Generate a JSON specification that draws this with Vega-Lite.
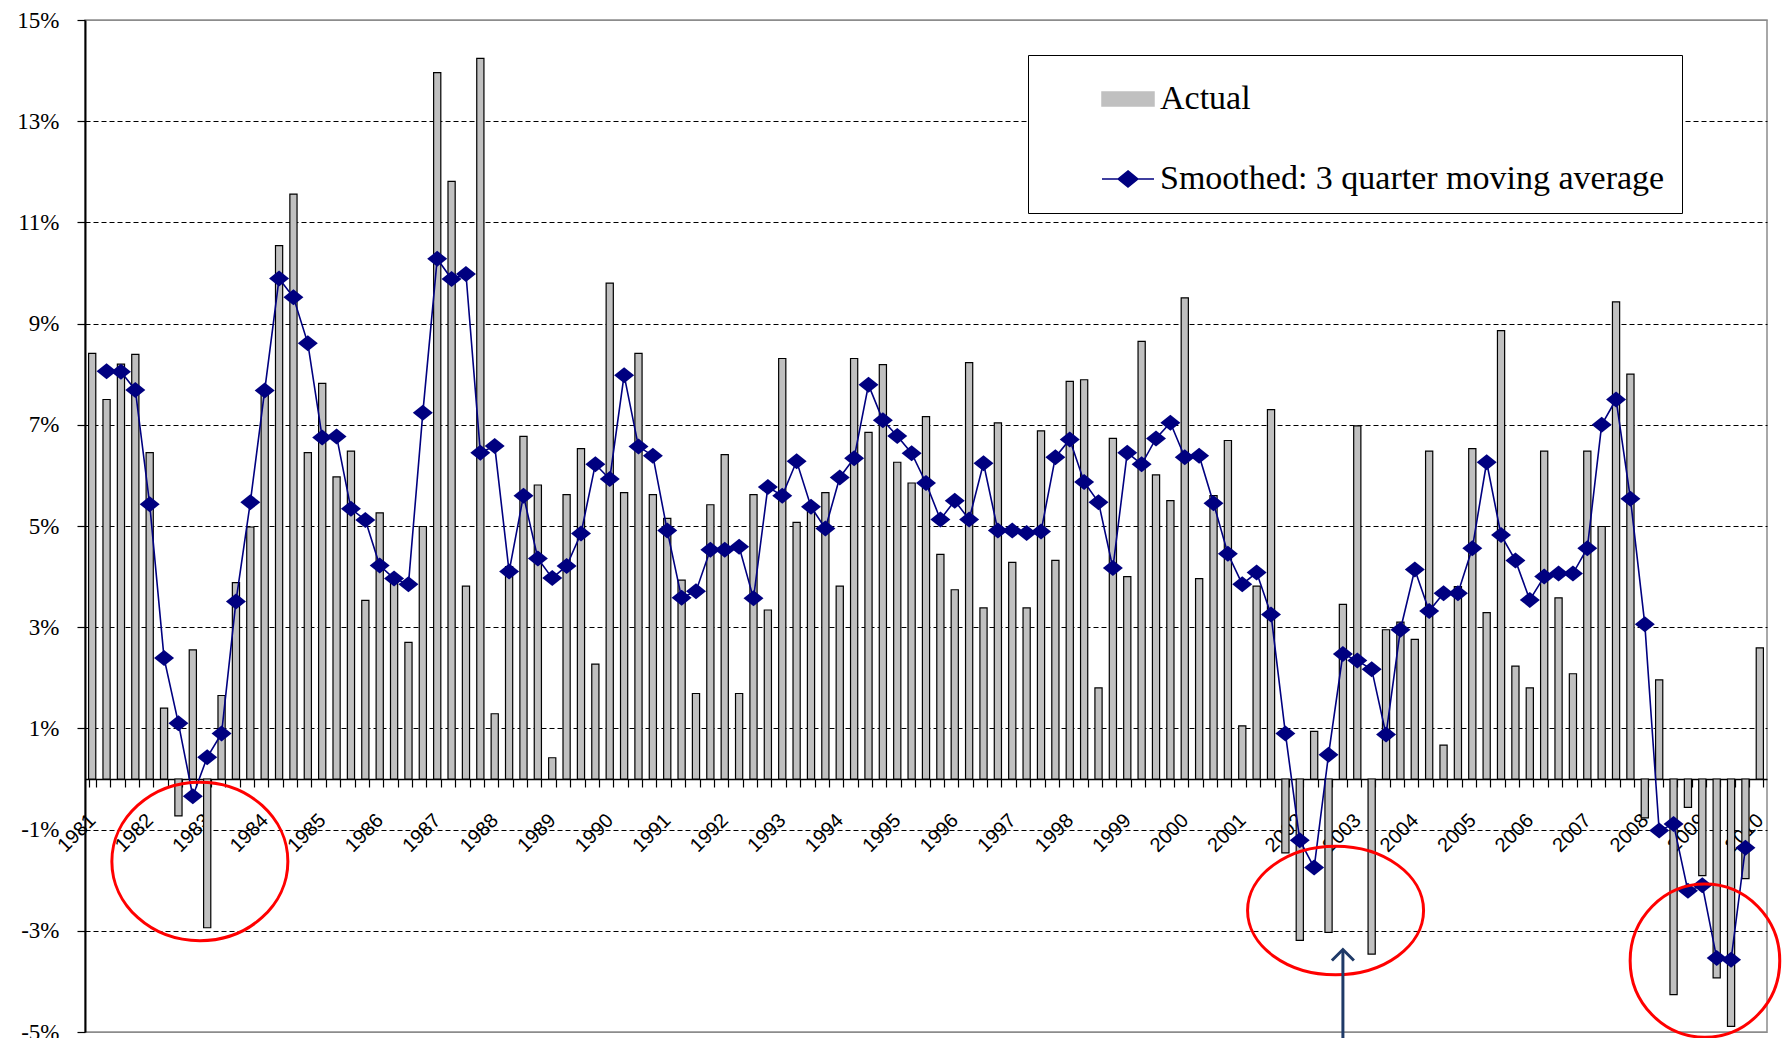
{
  "$schema": "https://vega.github.io/schema/vega-lite/v6.json",
  "autosize": {"type": "none"},
  "padding": {"left": 85, "top": 20, "right": 16, "bottom": 6},
  "width": 1682,
  "height": 1012,
  "background": "white",
  "config": {
    "view": {"stroke": "#8c8c8c", "strokeWidth": 1.5}
  },
  "data": {
    "values": [
      {"q": "1981 Q1", "a": 8.41, "s": null},
      {"q": "1981 Q2", "a": 7.50, "s": 8.06},
      {"q": "1981 Q3", "a": 8.2, "s": 8.05},
      {"q": "1981 Q4", "a": 8.39, "s": 7.69},
      {"q": "1982 Q1", "a": 6.45, "s": 5.43},
      {"q": "1982 Q2", "a": 1.40, "s": 2.39},
      {"q": "1982 Q3", "a": -0.73, "s": 1.10},
      {"q": "1982 Q4", "a": 2.55, "s": -0.34},
      {"q": "1983 Q1", "a": -2.94, "s": 0.43},
      {"q": "1983 Q2", "a": 1.65, "s": 0.90},
      {"q": "1983 Q3", "a": 3.88, "s": 3.51},
      {"q": "1983 Q4", "a": 4.98, "s": 5.47},
      {"q": "1984 Q1", "a": 7.6, "s": 7.68},
      {"q": "1984 Q2", "a": 10.54, "s": 9.89},
      {"q": "1984 Q3", "a": 11.56, "s": 9.52},
      {"q": "1984 Q4", "a": 6.45, "s": 8.61},
      {"q": "1985 Q1", "a": 7.82, "s": 6.75},
      {"q": "1985 Q2", "a": 5.97, "s": 6.77},
      {"q": "1985 Q3", "a": 6.48, "s": 5.34},
      {"q": "1985 Q4", "a": 3.53, "s": 5.12},
      {"q": "1986 Q1", "a": 5.26, "s": 4.22},
      {"q": "1986 Q2", "a": 3.9, "s": 3.96},
      {"q": "1986 Q3", "a": 2.70, "s": 3.85},
      {"q": "1986 Q4", "a": 4.99, "s": 7.24},
      {"q": "1987 Q1", "a": 13.96, "s": 10.28},
      {"q": "1987 Q2", "a": 11.81, "s": 9.88},
      {"q": "1987 Q3", "a": 3.81, "s": 9.98},
      {"q": "1987 Q4", "a": 14.24, "s": 6.45},
      {"q": "1988 Q1", "a": 1.29, "s": 6.58},
      {"q": "1988 Q2", "a": 4.2, "s": 4.10},
      {"q": "1988 Q3", "a": 6.77, "s": 5.60},
      {"q": "1988 Q4", "a": 5.81, "s": 4.36},
      {"q": "1989 Q1", "a": 0.42, "s": 3.97},
      {"q": "1989 Q2", "a": 5.62, "s": 4.21},
      {"q": "1989 Q3", "a": 6.53, "s": 4.85},
      {"q": "1989 Q4", "a": 2.27, "s": 6.22},
      {"q": "1990 Q1", "a": 9.80, "s": 5.93},
      {"q": "1990 Q2", "a": 5.66, "s": 7.98},
      {"q": "1990 Q3", "a": 8.41, "s": 6.57},
      {"q": "1990 Q4", "a": 5.62, "s": 6.39},
      {"q": "1991 Q1", "a": 5.15, "s": 4.91},
      {"q": "1991 Q2", "a": 3.93, "s": 3.58},
      {"q": "1991 Q3", "a": 1.69, "s": 3.71},
      {"q": "1991 Q4", "a": 5.42, "s": 4.53},
      {"q": "1992 Q1", "a": 6.41, "s": 4.53},
      {"q": "1992 Q2", "a": 1.69, "s": 4.59},
      {"q": "1992 Q3", "a": 5.62, "s": 3.57},
      {"q": "1992 Q4", "a": 3.34, "s": 5.77},
      {"q": "1993 Q1", "a": 8.31, "s": 5.60},
      {"q": "1993 Q2", "a": 5.07, "s": 6.28},
      {"q": "1993 Q3", "a": 5.4, "s": 5.38},
      {"q": "1993 Q4", "a": 5.66, "s": 4.95},
      {"q": "1994 Q1", "a": 3.81, "s": 5.96},
      {"q": "1994 Q2", "a": 8.31, "s": 6.34},
      {"q": "1994 Q3", "a": 6.85, "s": 7.79},
      {"q": "1994 Q4", "a": 8.19, "s": 7.09},
      {"q": "1995 Q1", "a": 6.26, "s": 6.78},
      {"q": "1995 Q2", "a": 5.85, "s": 6.44},
      {"q": "1995 Q3", "a": 7.16, "s": 5.85},
      {"q": "1995 Q4", "a": 4.44, "s": 5.13},
      {"q": "1996 Q1", "a": 3.74, "s": 5.50},
      {"q": "1996 Q2", "a": 8.23, "s": 5.13},
      {"q": "1996 Q3", "a": 3.38, "s": 6.24},
      {"q": "1996 Q4", "a": 7.04, "s": 4.91},
      {"q": "1997 Q1", "a": 4.28, "s": 4.91},
      {"q": "1997 Q2", "a": 3.38, "s": 4.86},
      {"q": "1997 Q3", "a": 6.88, "s": 4.89},
      {"q": "1997 Q4", "a": 4.32, "s": 6.36},
      {"q": "1998 Q1", "a": 7.86, "s": 6.71},
      {"q": "1998 Q2", "a": 7.89, "s": 5.87},
      {"q": "1998 Q3", "a": 1.80, "s": 5.47},
      {"q": "1998 Q4", "a": 6.73, "s": 4.17},
      {"q": "1999 Q1", "a": 4.00, "s": 6.45},
      {"q": "1999 Q2", "a": 8.65, "s": 6.22},
      {"q": "1999 Q3", "a": 6.01, "s": 6.73},
      {"q": "1999 Q4", "a": 5.50, "s": 7.04},
      {"q": "2000 Q1", "a": 9.51, "s": 6.36},
      {"q": "2000 Q2", "a": 3.96, "s": 6.39},
      {"q": "2000 Q3", "a": 5.6, "s": 5.45},
      {"q": "2000 Q4", "a": 6.69, "s": 4.45},
      {"q": "2001 Q1", "a": 1.05, "s": 3.85},
      {"q": "2001 Q2", "a": 3.81, "s": 4.08},
      {"q": "2001 Q3", "a": 7.30, "s": 3.25},
      {"q": "2001 Q4", "a": -1.46, "s": 0.90},
      {"q": "2002 Q1", "a": -3.19, "s": -1.21},
      {"q": "2002 Q2", "a": 0.94, "s": -1.75},
      {"q": "2002 Q3", "a": -3.03, "s": 0.48},
      {"q": "2002 Q4", "a": 3.45, "s": 2.47},
      {"q": "2003 Q1", "a": 6.98, "s": 2.34},
      {"q": "2003 Q2", "a": -3.46, "s": 2.17},
      {"q": "2003 Q3", "a": 2.95, "s": 0.88},
      {"q": "2003 Q4", "a": 3.1, "s": 2.95},
      {"q": "2004 Q1", "a": 2.76, "s": 4.14},
      {"q": "2004 Q2", "a": 6.48, "s": 3.32},
      {"q": "2004 Q3", "a": 0.67, "s": 3.67},
      {"q": "2004 Q4", "a": 3.8, "s": 3.67},
      {"q": "2005 Q1", "a": 6.53, "s": 4.56},
      {"q": "2005 Q2", "a": 3.29, "s": 6.26},
      {"q": "2005 Q3", "a": 8.86, "s": 4.82},
      {"q": "2005 Q4", "a": 2.23, "s": 4.32},
      {"q": "2006 Q1", "a": 1.80, "s": 3.54},
      {"q": "2006 Q2", "a": 6.48, "s": 4.00},
      {"q": "2006 Q3", "a": 3.58, "s": 4.06},
      {"q": "2006 Q4", "a": 2.08, "s": 4.06},
      {"q": "2007 Q1", "a": 6.48, "s": 4.56},
      {"q": "2007 Q2", "a": 4.99, "s": 7.00},
      {"q": "2007 Q3", "a": 9.43, "s": 7.50},
      {"q": "2007 Q4", "a": 8.00, "s": 5.54},
      {"q": "2008 Q1", "a": -0.77, "s": 3.06},
      {"q": "2008 Q2", "a": 1.96, "s": -1.02},
      {"q": "2008 Q3", "a": -4.26, "s": -0.89},
      {"q": "2008 Q4", "a": -0.56, "s": -2.21},
      {"q": "2009 Q1", "a": -1.91, "s": -2.10},
      {"q": "2009 Q2", "a": -3.93, "s": -3.54},
      {"q": "2009 Q3", "a": -4.89, "s": -3.57},
      {"q": "2009 Q4", "a": -1.97, "s": -1.36},
      {"q": "2010 Q1", "a": 2.59, "s": null}
    ]
  },
  "encoding": {
    "x": {
      "field": "q",
      "type": "ordinal",
      "scale": {"paddingInner": 0.5, "paddingOuter": 0.25},
      "axis": {
        "title": null,
        "offset": -253,
        "domainColor": "#000000",
        "domainWidth": 1.5,
        "tickColor": "#000000",
        "tickSize": 8,
        "tickWidth": 1.2,
        "tickBand": "extent",
        "labelExpr": "isString(datum.value) && substring(datum.value, 5, 7) === 'Q1' ? substring(datum.value, 0, 4) : ''",
        "labelAngle": -45,
        "labelAlign": "right",
        "labelBaseline": "middle",
        "labelPadding": 30,
        "labelFont": "Liberation Sans",
        "labelFontSize": 20,
        "labelColor": "#000000",
        "labelOverlap": false,
        "labelBound": false,
        "labelFlush": false
      }
    }
  },
  "layer": [
    {
      "mark": {"type": "bar", "stroke": "#000000", "strokeWidth": 1.2},
      "encoding": {
        "y": {
          "field": "a",
          "type": "quantitative",
          "scale": {"domain": [-5, 15], "nice": false, "zero": false},
          "axis": {
            "title": null,
            "values": [-5, -3, -1, 1, 3, 5, 7, 9, 11, 13, 15],
            "labelExpr": "datum.value + '%'",
            "labelFont": "Liberation Serif",
            "labelFontSize": 23,
            "labelColor": "#000000",
            "labelPadding": 18,
            "domainColor": "#000000",
            "domainWidth": 2,
            "tickColor": "#000000",
            "tickSize": 8,
            "tickWidth": 1.2,
            "grid": true,
            "gridColor": {"condition": {"test": "datum.value === 15 || datum.value === -5", "value": "#8c8c8c"}, "value": "#000000"},
            "gridDash": {"condition": {"test": "datum.value === 15 || datum.value === -5", "value": []}, "value": [5, 3]},
            "gridWidth": 1.2
          }
        },
        "color": {
          "datum": "Actual",
          "type": "nominal",
          "scale": {"domain": ["Actual", "Smoothed: 3 quarter moving average"], "range": ["#c0c0c0", "#000080"]},
          "legend": {
            "title": null,
            "orient": "none",
            "legendX": 943,
            "legendY": 35,
            "padding": 17,
            "strokeColor": "#000000",
            "fillColor": "#ffffff",
            "labelFont": "Liberation Serif",
            "labelFontSize": 34,
            "labelColor": "#000000",
            "labelLimit": 900,
            "labelExpr": "datum.label + '\u00a0\u00a0\u00a0\u00a0\u00a0\u00a0\u00a0\u00a0\u00a0\u00a0\u00a0\u00a0'",
            "symbolOffset": 56,
            "labelOffset": 5,
            "rowPadding": 36,
            "symbolSize": 2704,
            "encode": {
              "symbols": {
                "update": {
                  "shape": {"signal": "datum.value === 'Actual' ? 'M-1,-0.27H1V0.27H-1Z' : 'M-1,0H1M0,-0.31L0.38,0L0,0.31L-0.38,0Z'"},
                  "fill": {"signal": "datum.value === 'Actual' ? '#c0c0c0' : '#000080'"},
                  "stroke": {"signal": "datum.value === 'Actual' ? '#000000' : '#000080'"},
                  "strokeWidth": {"value": 1.5},
                  "opacity": {"value": 1},
                  "fillOpacity": {"value": 1},
                  "strokeOpacity": {"value": 1}
                }
              }
            }
          }
        }
      }
    },
    {
      "transform": [{"filter": "datum.s != null"}],
      "mark": {"type": "line", "strokeWidth": 1.6},
      "encoding": {
        "y": {"field": "s", "type": "quantitative"},
        "color": {
          "datum": "Smoothed: 3 quarter moving average",
          "type": "nominal",
          "legend": {
            "title": null,
            "orient": "none",
            "legendX": 943,
            "legendY": 35,
            "padding": 17,
            "strokeColor": "#000000",
            "fillColor": "#ffffff",
            "labelFont": "Liberation Serif",
            "labelFontSize": 34,
            "labelColor": "#000000",
            "labelLimit": 900,
            "labelExpr": "datum.label + '\u00a0\u00a0\u00a0\u00a0\u00a0\u00a0\u00a0\u00a0\u00a0\u00a0\u00a0\u00a0'",
            "symbolOffset": 56,
            "labelOffset": 5,
            "rowPadding": 36,
            "symbolSize": 2704,
            "encode": {
              "symbols": {
                "update": {
                  "shape": {"signal": "datum.value === 'Actual' ? 'M-1,-0.27H1V0.27H-1Z' : 'M-1,0H1M0,-0.31L0.38,0L0,0.31L-0.38,0Z'"},
                  "fill": {"signal": "datum.value === 'Actual' ? '#c0c0c0' : '#000080'"},
                  "stroke": {"signal": "datum.value === 'Actual' ? '#000000' : '#000080'"},
                  "strokeWidth": {"value": 1.5},
                  "opacity": {"value": 1},
                  "fillOpacity": {"value": 1},
                  "strokeOpacity": {"value": 1}
                }
              }
            }
          }
        }
      }
    },
    {
      "transform": [{"filter": "datum.s != null"}],
      "mark": {"type": "point", "filled": true, "opacity": 1, "color": "#000080", "shape": "M-1,0L0,-0.8L1,0L0,0.8Z", "size": 400},
      "encoding": {
        "y": {"field": "s", "type": "quantitative"}
      }
    },
    {
      "data": {"values": [
        {"q": "1982 Q4", "v": -1.63, "id": "a"},
        {"q": "2002 Q3", "v": -2.6, "id": "b"},
        {"q": "2009 Q1", "v": -3.59, "id": "c"}
      ]},
      "mark": {"type": "point", "filled": false, "stroke": "#ff0000", "strokeWidth": 3, "opacity": 1, "size": 30976},
      "encoding": {
        "y": {"field": "v", "type": "quantitative"},
        "shape": {
          "field": "id",
          "type": "nominal",
          "scale": {"domain": ["a", "b", "c"], "range": [
            "M1.08,0C1.08,0.497,0.632,0.9,0.08,0.9C-0.472,0.9,-0.92,0.497,-0.92,0C-0.92,-0.497,-0.472,-0.9,0.08,-0.9C0.632,-0.9,1.08,-0.497,1.08,0Z",
            "M1.08,0C1.08,0.403,0.632,0.73,0.08,0.73C-0.472,0.73,-0.92,0.403,-0.92,0C-0.92,-0.403,-0.472,-0.73,0.08,-0.73C0.632,-0.73,1.08,-0.403,1.08,0Z",
            "M0.88,0C0.88,0.48,0.499,0.87,0.03,0.87C-0.439,0.87,-0.82,0.48,-0.82,0C-0.82,-0.48,-0.439,-0.87,0.03,-0.87C0.499,-0.87,0.88,-0.48,0.88,0Z"
          ]},
          "legend": null
        }
      }
    },
    {
      "data": {"values": [{"q": "2002 Q4", "top": -3.4, "bottom": -5.3}]},
      "mark": {"type": "rule", "stroke": "#1f3a68", "strokeWidth": 3},
      "encoding": {
        "y": {"field": "top", "type": "quantitative"},
        "y2": {"field": "bottom"}
      }
    },
    {
      "data": {"values": [{"q": "2002 Q4", "top": -3.37}]},
      "mark": {"type": "point", "filled": false, "stroke": "#1f3a68", "strokeWidth": 3, "opacity": 1, "shape": "M-1,1L0,0L1,1", "size": 484},
      "encoding": {
        "y": {"field": "top", "type": "quantitative"}
      }
    }
  ]
}
